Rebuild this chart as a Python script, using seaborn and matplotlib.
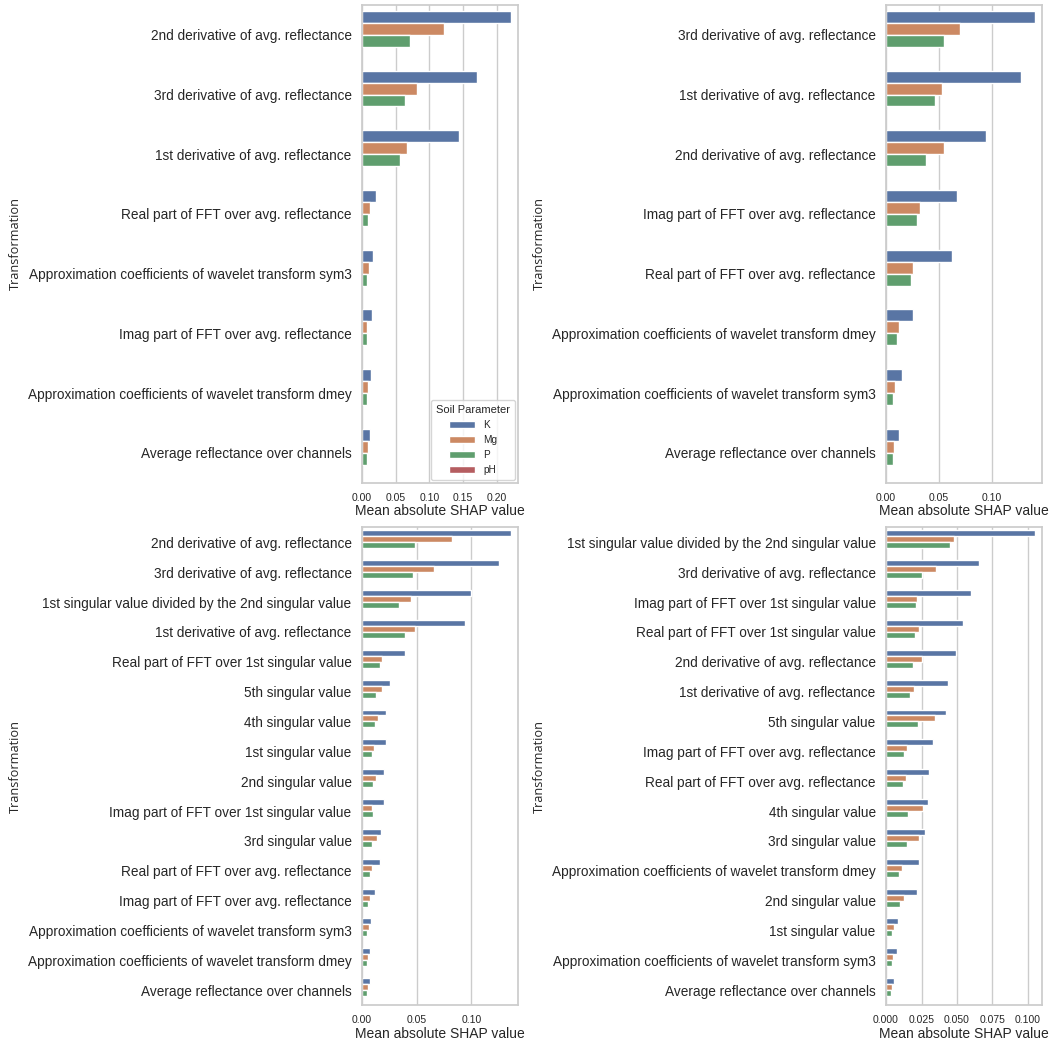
import numpy as np
import pandas as pd
import seaborn as sns
import matplotlib.pyplot as plt
from matplotlib.ticker import MultipleLocator

params = ["K", "Mg", "P", "pH"]

# Panel A: transformations of average reflectance
cats_a = [
    "2nd derivative of avg. reflectance",
    "3rd derivative of avg. reflectance",
    "1st derivative of avg. reflectance",
    "Real part of FFT over avg. reflectance",
    "Approximation coefficients of wavelet transform sym3",
    "Imag part of FFT over avg. reflectance",
    "Approximation coefficients of wavelet transform dmey",
    "Average reflectance over channels",
]
k_a = [0.2208, 0.1707, 0.1444, 0.0213, 0.0164, 0.0144, 0.0134, 0.0124]
mg_a = [0.1216, 0.0824, 0.0675, 0.0124, 0.0099, 0.0079, 0.0094, 0.0089]
p_a = [0.0715, 0.0635, 0.0571, 0.0094, 0.0079, 0.0069, 0.0069, 0.0069]

# Panel B
cats_b = [
    "3rd derivative of avg. reflectance",
    "1st derivative of avg. reflectance",
    "2nd derivative of avg. reflectance",
    "Imag part of FFT over avg. reflectance",
    "Real part of FFT over avg. reflectance",
    "Approximation coefficients of wavelet transform dmey",
    "Approximation coefficients of wavelet transform sym3",
    "Average reflectance over channels",
]
k_b = [0.1407, 0.1281, 0.0950, 0.0675, 0.0621, 0.0252, 0.0151, 0.0120]
mg_b = [0.0703, 0.0533, 0.0546, 0.0319, 0.0252, 0.0120, 0.0082, 0.0073]
p_b = [0.0552, 0.0464, 0.0382, 0.0290, 0.0240, 0.0101, 0.0069, 0.0066]

# Panel C: including singular value features
cats_c = [
    "2nd derivative of avg. reflectance",
    "3rd derivative of avg. reflectance",
    "1st singular value divided by the 2nd singular value",
    "1st derivative of avg. reflectance",
    "Real part of FFT over 1st singular value",
    "5th singular value",
    "4th singular value",
    "1st singular value",
    "2nd singular value",
    "Imag part of FFT over 1st singular value",
    "3rd singular value",
    "Real part of FFT over avg. reflectance",
    "Imag part of FFT over avg. reflectance",
    "Approximation coefficients of wavelet transform sym3",
    "Approximation coefficients of wavelet transform dmey",
    "Average reflectance over channels",
]
k_c = [0.1357, 0.1253, 0.1000, 0.0945, 0.0396, 0.0253, 0.0220, 0.0216,
       0.0204, 0.0198, 0.0174, 0.0162, 0.0119, 0.0082, 0.0076, 0.0076]
mg_c = [0.0823, 0.0655, 0.0451, 0.0482, 0.0186, 0.0186, 0.0149, 0.0107,
        0.0131, 0.0095, 0.0140, 0.0095, 0.0070, 0.0064, 0.0058, 0.0058]
p_c = [0.0488, 0.0463, 0.0335, 0.0390, 0.0162, 0.0131, 0.0119, 0.0088,
       0.0101, 0.0101, 0.0095, 0.0070, 0.0052, 0.0046, 0.0046, 0.0046]

# Panel D
cats_d = [
    "1st singular value divided by the 2nd singular value",
    "3rd derivative of avg. reflectance",
    "Imag part of FFT over 1st singular value",
    "Real part of FFT over 1st singular value",
    "2nd derivative of avg. reflectance",
    "1st derivative of avg. reflectance",
    "5th singular value",
    "Imag part of FFT over avg. reflectance",
    "Real part of FFT over avg. reflectance",
    "4th singular value",
    "3rd singular value",
    "Approximation coefficients of wavelet transform dmey",
    "2nd singular value",
    "1st singular value",
    "Approximation coefficients of wavelet transform sym3",
    "Average reflectance over channels",
]
k_d = [0.1047, 0.0657, 0.0596, 0.0540, 0.0493, 0.0434, 0.0425, 0.0329,
       0.0303, 0.0298, 0.0272, 0.0232, 0.0216, 0.0087, 0.0077, 0.0054]
mg_d = [0.0479, 0.0350, 0.0216, 0.0232, 0.0251, 0.0195, 0.0345, 0.0150,
        0.0141, 0.0263, 0.0232, 0.0113, 0.0127, 0.0059, 0.0049, 0.0040]
p_d = [0.0451, 0.0256, 0.0211, 0.0202, 0.0190, 0.0169, 0.0225, 0.0127,
       0.0122, 0.0155, 0.0146, 0.0094, 0.0099, 0.0045, 0.0045, 0.0035]

tick_steps = [0.05, 0.05, 0.05, 0.025]


def to_frame(cats, k, mg, p):
    rows = []
    for i, c in enumerate(cats):
        rows.append((c, "K", k[i]))
        rows.append((c, "Mg", mg[i]))
        rows.append((c, "P", p[i]))
        rows.append((c, "pH", np.nan))  # no pH importances for these models
    return pd.DataFrame(rows, columns=["Transformation", "Soil Parameter", "value"])


sns.set_theme(style="whitegrid", palette="deep")
plt.rcParams["font.family"] = ["Liberation Sans", "DejaVu Sans"]

fig, axes = plt.subplots(2, 2, figsize=(10.5, 10.42), dpi=100)
fig.subplots_adjust(left=0.3448, right=0.9924, top=0.9952, bottom=0.0355,
                    wspace=2.36, hspace=0.094)

panels = [(cats_a, k_a, mg_a, p_a), (cats_b, k_b, mg_b, p_b),
          (cats_c, k_c, mg_c, p_c), (cats_d, k_d, mg_d, p_d)]

for idx, (ax, (cats, k, mg, p)) in enumerate(zip(axes.flat, panels)):
    df = to_frame(cats, k, mg, p)
    sns.barplot(data=df, y="Transformation", x="value", hue="Soil Parameter",
                order=cats, hue_order=params, errorbar=None, orient="h", ax=ax)
    ax.xaxis.set_major_locator(MultipleLocator(tick_steps[idx]))
    ax.set_xlabel("Mean absolute SHAP value", fontsize=10, labelpad=1)
    ax.set_ylabel("Transformation", fontsize=9.2, labelpad=4,
                  family=["Open Sans", "DejaVu Sans"])
    ax.tick_params(axis="y", labelsize=9.8, pad=1.5)
    ax.tick_params(axis="x", labelsize=7.5, pad=1.5)
    if idx == 0:
        sns.move_legend(ax, "lower right", fontsize=7.2, title_fontsize=8,
                        title="Soil Parameter", handlelength=2.6,
                        borderaxespad=0.3, labelspacing=0.5, borderpad=0.5)
    else:
        ax.get_legend().remove()

fig.savefig("out.png", dpi=100)
